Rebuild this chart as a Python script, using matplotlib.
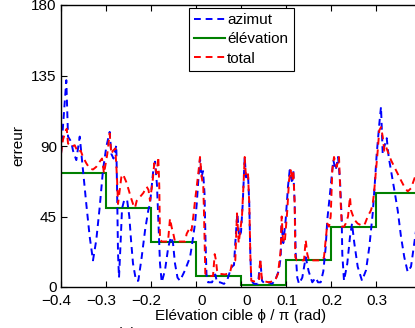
import numpy as np
import matplotlib
matplotlib.use("Agg")
import matplotlib.pyplot as plt
from matplotlib.transforms import ScaledTranslation

plt.rcParams['font.family'] = ['Liberation Sans', 'DejaVu Sans']

# azimuth error (blue dashed)
az_x = [-0.4000, -0.3882, -0.3844, -0.3771, -0.3733, -0.3660, -0.3584, -0.3511, -0.3438, -0.3362,
        -0.3289, -0.3216, -0.3140, -0.3067, -0.2993, -0.2918, -0.2882, -0.2833, -0.2771, -0.2749,
        -0.2733, -0.2711, -0.2673, -0.2644, -0.2600, -0.2533, -0.2482, -0.2444, -0.2400, -0.2333,
        -0.2282, -0.2207, -0.2133, -0.2060, -0.2022, -0.1949, -0.1911, -0.1867, -0.1833, -0.1800,
        -0.1762, -0.1689, -0.1616, -0.1556, -0.1511, -0.1467, -0.1411, -0.1356, -0.1244, -0.1133,
        -0.1096, -0.1022, -0.0984, -0.0949, -0.0911, -0.0878, -0.0844, -0.0811, -0.0789, -0.0767,
        -0.0733, -0.0644, -0.0571, -0.0533, -0.0467, -0.0378, -0.0311, -0.0244, -0.0200, -0.0156,
        -0.0127, -0.0082, -0.0038, 0.0000, 0.0038, 0.0082, 0.0111, 0.0156, 0.0184, 0.0207,
        0.0229, 0.0289, 0.0378, 0.0429, 0.0467, 0.0533, 0.0616, 0.0689, 0.0756, 0.0844,
        0.0882, 0.0900, 0.0940, 0.0993, 0.1044, 0.1082, 0.1111, 0.1140, 0.1162, 0.1193,
        0.1216, 0.1251, 0.1289, 0.1362, 0.1438, 0.1504, 0.1584, 0.1660, 0.1711, 0.1771,
        0.1829, 0.1882, 0.1918, 0.1993, 0.2051, 0.2104, 0.2156, 0.2200, 0.2238, 0.2251,
        0.2289, 0.2362, 0.2422, 0.2467, 0.2518, 0.2593, 0.2689, 0.2778, 0.2851, 0.2927,
        0.2978, 0.3016, 0.3073, 0.3111, 0.3149, 0.3184, 0.3238, 0.3282, 0.3333, 0.3407,
        0.3482, 0.3556, 0.3629, 0.3704, 0.3778, 0.3851, 0.3933, 0.4000]
az_y = [85, 132, 96, 92.6, 87, 81, 96, 74.6, 53, 32,
        17, 30, 51, 74.6, 89.5, 99, 85, 82, 90.5, 53.5,
        21.5, 6, 30, 50, 55, 56, 45, 30, 15, 4,
        4, 19, 36, 49, 53, 74.6, 80, 65, 40, 15,
        3, 10.7, 25.5, 32, 28, 15, 6, 4, 10.7, 19,
        25.5, 40.5, 53, 68, 82, 70, 74, 60, 30, 8,
        3, 3, 8, 3, 3, 2, 4, 10, 13, 14,
        28, 47, 32, 35, 53, 83, 70, 72, 53, 21,
        4, 2, 2, 17, 4, 2, 3, 2, 4, 10.7,
        19, 40, 28, 43, 64, 74.6, 70, 66, 74.6, 53,
        21, 6, 2, 6, 19, 10, 3, 6, 3, 3,
        10, 25.5, 43, 64, 81, 74.6, 83, 68, 43, 21,
        4, 15, 32, 40.5, 28, 13, 4, 10.7, 25.5, 47,
        68, 85, 104, 115, 85, 89.5, 95, 83, 74.6, 62,
        49, 32, 19, 9.6, 13, 28, 45, 55]

# total error (red dashed)
tot_x = [-0.4000, -0.3956, -0.3904, -0.3873, -0.3844, -0.3771, -0.3696, -0.3622, -0.3562, -0.3511,
         -0.3438, -0.3362, -0.3289, -0.3216, -0.3140, -0.3089, -0.3044, -0.2971, -0.2918, -0.2882,
         -0.2844, -0.2793, -0.2756, -0.2733, -0.2660, -0.2622, -0.2549, -0.2496, -0.2451, -0.2400,
         -0.2356, -0.2318, -0.2244, -0.2171, -0.2096, -0.2056, -0.2022, -0.1962, -0.1927, -0.1873,
         -0.1838, -0.1816, -0.1800, -0.1756, -0.1622, -0.1578, -0.1540, -0.1504, -0.1467, -0.1244,
         -0.1207, -0.1171, -0.1133, -0.1100, -0.1060, -0.1022, -0.0984, -0.0949, -0.0911, -0.0873,
         -0.0838, -0.0822, -0.0793, -0.0733, -0.0622, -0.0584, -0.0556, -0.0533, -0.0496, -0.0356,
         -0.0244, -0.0200, -0.0127, -0.0089, -0.0051, -0.0016, 0.0022, 0.0060, 0.0082, 0.0111,
         0.0156, 0.0184, 0.0207, 0.0229, 0.0311, 0.0400, 0.0429, 0.0467, 0.0616, 0.0756,
         0.0822, 0.0882, 0.0904, 0.0933, 0.0971, 0.1029, 0.1067, 0.1104, 0.1140, 0.1162,
         0.1193, 0.1207, 0.1244, 0.1400, 0.1438, 0.1473, 0.1511, 0.1800, 0.1844, 0.1918,
         0.1956, 0.1993, 0.2029, 0.2067, 0.2127, 0.2178, 0.2216, 0.2244, 0.2289, 0.2327,
         0.2378, 0.2422, 0.2444, 0.2518, 0.2593, 0.2704, 0.2756, 0.2816, 0.2889, 0.2927,
         0.2956, 0.3000, 0.3038, 0.3073, 0.3111, 0.3149, 0.3184, 0.3222, 0.3282, 0.3333,
         0.3407, 0.3482, 0.3556, 0.3629, 0.3704, 0.3778, 0.3851, 0.3933, 0.4000]
tot_y = [85, 94, 99, 101, 91.6, 89.5, 90.5, 86, 87, 83,
         79, 75.6, 75, 76.7, 80, 82, 72.5, 85, 98, 85,
         87, 88.4, 70, 53, 70, 72, 67, 62, 57.5, 53,
         50.5, 55, 57.5, 60, 64, 62, 55, 68, 79, 72.5,
         83, 64, 30, 29, 29, 43.7, 38, 34, 29, 29,
         34, 36, 38, 36, 45, 55, 64, 72.5, 83, 70,
         64, 47, 8.5, 7, 7, 21, 17, 10.7, 8.5, 8,
         9, 15, 17, 47, 28, 36, 45, 68, 83, 70,
         72, 53, 21, 4, 3.5, 4, 18, 4, 3, 4,
         8.5, 23.5, 45, 30, 28, 49, 68, 74.6, 68, 74.6,
         53, 19, 17, 17, 30, 21, 17, 17, 19, 40.5,
         38.5, 45, 74.6, 83, 76.7, 83, 53, 38.5, 38.5, 40.5,
         45, 57.5, 49, 43, 40.5, 39, 40.5, 45, 49, 53,
         60, 74.6, 87, 100, 102, 96, 87, 89.5, 85, 81,
         76.7, 72.5, 68, 64, 61, 63, 69, 75, 78]

# elevation error (green steps)
elev_edges = [-0.4, -0.3, -0.2, -0.1, 0.0, 0.1, 0.2, 0.3, 0.4]
elev_levels = [72.5, 50.5, 29, 7, 1, 17, 38.5, 60]

xticks = [-0.4, -0.3, -0.2, -0.1, 0.0, 0.1, 0.2, 0.3]
xticklabels = ['\u22120.4', '\u22120.3', '\u22120.2', '0', '0', '0.1', '0.2', '0.3']
yticks = [0, 45, 90, 135, 180]

fig = plt.figure(figsize=(4.15, 3.28), dpi=100)
# axes runs past the right border, as in the reference
ax = fig.add_axes([61 / 415, 41 / 328, 360 / 415, 282 / 328])

ax.plot(az_x, az_y, color='blue', lw=1.4, ls=(0, (3.5, 2.5)), label='azimut')
ax.stairs(elev_levels, elev_edges, color='#008000', lw=1.5, baseline=None, label='élévation')
ax.plot(tot_x, tot_y, color='red', lw=1.4, ls=(0, (3.5, 2.5)), label='total')

ax.set_xlim(-0.4, 0.4)
ax.set_ylim(0, 180)
ax.set_xticks(xticks)
ax.set_xticklabels(xticklabels)
ax.set_yticks(yticks)
ax.tick_params(direction='in', length=4, width=0.8, labelsize=11, top=True, right=True)
ax.tick_params(axis='x', pad=5)
ax.tick_params(axis='y', pad=3)
for s in ax.spines.values():
    s.set_linewidth(1.0)

# the reference draws its x labels a little off their ticks
for lab in ax.get_xticklabels():
    t = lab.get_text()
    dx = -5 if t.startswith('\u2212') else (6 if t == '0' else 1)
    lab.set_transform(lab.get_transform() + ScaledTranslation(dx / 100, 0, fig.dpi_scale_trans))

ax.set_xlabel('Elévation cible \u03d5 / \u03c0 (rad)', fontsize=11, labelpad=1)
ax.set_ylabel('erreur', fontsize=11)
ax.yaxis.set_label_coords(-0.098, 0.5)

leg = ax.legend(loc='upper left', bbox_to_anchor=(0.3556, 0.989), borderaxespad=0,
                fancybox=False, framealpha=1, edgecolor='black', fontsize=11,
                handlelength=2.0, handletextpad=0.15, labelspacing=0.33,
                borderpad=0.35)
leg.get_frame().set_linewidth(0.8)

fig.text(0.305, 0.004, '(a)', fontsize=11, ha='center', va='top')

fig.savefig('out.png', dpi=100)
